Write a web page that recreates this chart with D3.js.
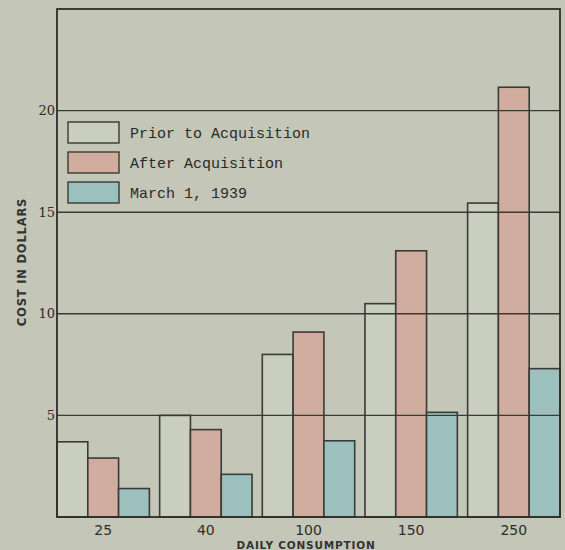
<!DOCTYPE html>
<html><head><meta charset="utf-8">
<script src="https://cdn.jsdelivr.net/npm/d3@7"></script>
<style>
html,body{margin:0;padding:0;background:#c4c6b8;overflow:hidden;}
</style></head>
<body>
<svg id="chart" width="565" height="550"></svg>
<script>
const categories = ["25", "40", "100", "150", "250"];
const seriesNames = ["Prior to Acquisition", "After Acquisition", "March 1, 1939"];
const priorValues = [3.7, 5.0, 8.0, 10.5, 15.45];
const afterValues = [2.9, 4.3, 9.1, 13.1, 21.15];
const marchValues = [1.4, 2.1, 3.75, 5.15, 7.3];
const yTicks = [5, 10, 15, 20];
const colors = ["#cacebf", "#d0ad9f", "#9cc0be"];

const svg = d3.select("#chart");
const margin = {left: 57, right: 5, top: 9, bottom: 33};
const W = 565, H = 550;
const x0 = d3.scaleBand().domain(categories).range([margin.left, W - margin.right]).paddingInner(0.1).paddingOuter(0);
const x1 = d3.scaleBand().domain(seriesNames).range([0, x0.bandwidth()]).padding(0);
const y = d3.scaleLinear().domain([0, 25]).range([H - margin.bottom, margin.top]);

const series = [priorValues, afterValues, marchValues];
const data = categories.map((c, i) => ({cat: c, vals: seriesNames.map((s, j) => ({s, v: series[j][i], j}))}));

const g = svg.append("g");
g.selectAll("g.grp").data(data).join("g").attr("class", "grp")
  .attr("transform", d => `translate(${x0(d.cat)},0)`)
  .selectAll("rect").data(d => d.vals).join("rect")
  .attr("x", d => x1(d.s)).attr("width", x1.bandwidth())
  .attr("y", d => y(d.v)).attr("height", d => y(0) - y(d.v))
  .attr("fill", d => colors[d.j]).attr("stroke", "#3a3a36").attr("stroke-width", 1.6);

// gridlines on top
svg.append("g").selectAll("line").data(yTicks).join("line")
  .attr("x1", margin.left).attr("x2", W - margin.right)
  .attr("y1", d => y(d)).attr("y2", d => y(d))
  .attr("stroke", "#3a3a36").attr("stroke-width", 1.4);

// frame
svg.append("rect").attr("x", margin.left).attr("y", y(25))
  .attr("width", W - margin.right - margin.left).attr("height", y(0) - y(25))
  .attr("fill", "none").attr("stroke", "#2e2e2a").attr("stroke-width", 1.8);

// y axis
const yAxis = d3.axisLeft(y).tickValues(yTicks).tickSize(0).tickPadding(2).tickFormat(d3.format("d"));
const ya = svg.append("g").attr("transform", `translate(${margin.left},0)`).call(yAxis);
ya.select(".domain").remove();
ya.selectAll("text").attr("font-family", "DejaVu Serif, serif").attr("font-size", 13).attr("fill", "#2a2a26");

// x axis
const xAxis = d3.axisBottom(x0).tickSize(0).tickPadding(8);
const xa = svg.append("g").attr("transform", `translate(0,${y(0)})`).call(xAxis);
xa.select(".domain").remove();
xa.selectAll("text").attr("font-family", "DejaVu Sans, sans-serif").attr("font-size", 14).attr("fill", "#2e2e2a");

// axis titles
svg.append("text").attr("transform", `translate(26,262) rotate(-90)`)
  .attr("text-anchor", "middle").attr("font-family", "DejaVu Sans, sans-serif")
  .attr("font-size", 11.5).attr("font-weight", "bold").attr("letter-spacing", 0.8).attr("fill", "#333")
  .text("COST IN DOLLARS");
svg.append("text").attr("x", 306).attr("y", 549)
  .attr("text-anchor", "middle").attr("font-family", "DejaVu Sans, sans-serif")
  .attr("font-size", 10.5).attr("font-weight", "bold").attr("letter-spacing", 0.8).attr("fill", "#333")
  .text("DAILY CONSUMPTION");

// legend
const lg = svg.append("g").selectAll("g").data(seriesNames).join("g")
  .attr("transform", (d, i) => `translate(68,${122 + i * 30})`);
lg.append("rect").attr("width", 51).attr("height", 21)
  .attr("fill", (d, i) => colors[i]).attr("stroke", "#3a3a36").attr("stroke-width", 1.4);
lg.append("text").attr("x", 62).attr("y", 15.5)
  .attr("font-family", "Liberation Mono, DejaVu Sans Mono, monospace").attr("font-size", 15)
  .attr("fill", "#2a2a28")
  .text(d => d);
</script>
</body></html>
